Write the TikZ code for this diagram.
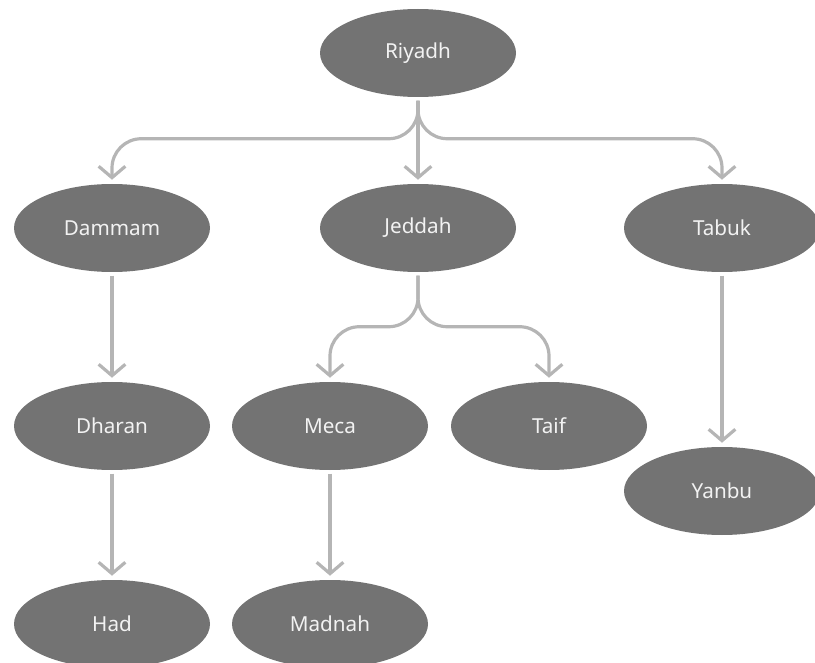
\documentclass[tikz,border=0pt]{standalone}
\usepackage{fontspec}
\setmainfont{Noto Sans}
\usetikzlibrary{shapes.geometric,arrows.meta,calc}
\definecolor{cityfill}{HTML}{737373}
\definecolor{linkgray}{HTML}{B5B5B5}

\begin{document}
\begin{tikzpicture}[x=0.75pt,y=-0.75pt,
        city/.style={ellipse,fill=cityfill,text=white!95!black,minimum width=147pt,minimum height=66pt,inner sep=0pt,font=\fontsize{15.5}{18}\selectfont},
        link/.style={draw=linkgray,line width=2.4pt,rounded corners=22pt,shorten <=2.5pt,shorten >=3pt,-{Straight Barb[length=8.5pt,width=20pt]}}]
    \useasboundingbox (0,0) rectangle (815,663);
    \clip (0,0) rectangle (815,663);

    % cities
    \node[city] (riyadh) at (418,53)  {Riyadh};
    \node[city] (dammam) at (112,228) {Dammam};
    \node[city] (jeddah) at (418,228) {Jeddah};
    \node[city] (tabuk)  at (722,228) {Tabuk};
    \node[city] (dharan) at (112,426) {Dharan};
    \node[city] (meca)   at (330,426) {Meca};
    \node[city] (taif)   at (549,426) {Taif};
    \node[city] (yanbu)  at (722,491) {Yanbu};
    \node[city] (had)    at (112,624) {Had};
    \node[city] (madnah) at (330,624) {Madnah};

    % links
    \draw[link] (riyadh) -- (jeddah);
    \draw[link] (riyadh.south) |- ($(dammam.north)+(0,-45)$) -- (dammam.north);
    \draw[link] (riyadh.south) |- ($(tabuk.north)+(0,-45)$) -- (tabuk.north);
    \draw[link] (jeddah.south) |- ($(meca.north)+(0,-55)$) -- (meca.north);
    \draw[link] (jeddah.south) |- ($(taif.north)+(0,-55)$) -- (taif.north);
    \draw[link] (dammam) -- (dharan);
    \draw[link] (dharan) -- (had);
    \draw[link] (meca) -- (madnah);
    \draw[link] (tabuk) -- (yanbu);
\end{tikzpicture}
\end{document}
